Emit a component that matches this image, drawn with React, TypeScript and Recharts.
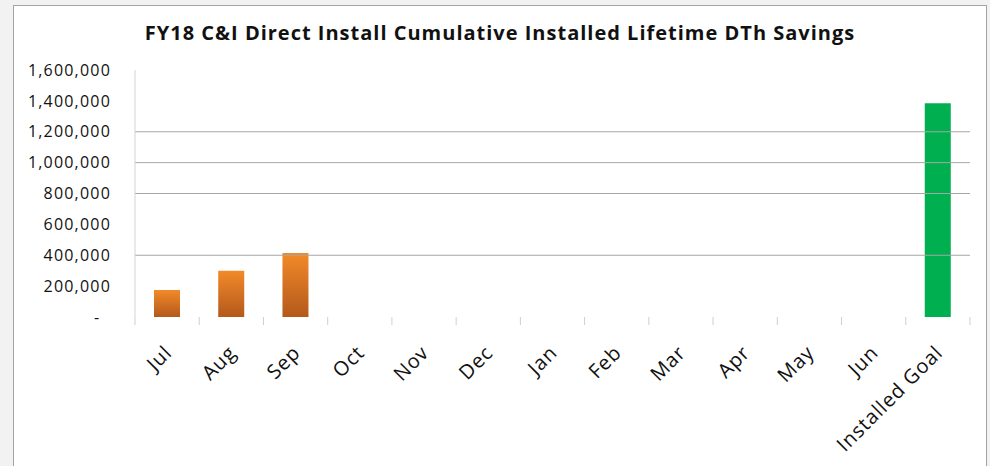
import React from "react";
import { BarChart, Bar, XAxis, YAxis, Cell, ReferenceLine } from "recharts";

const categories = ["Jul", "Aug", "Sep", "Oct", "Nov", "Dec", "Jan", "Feb", "Mar", "Apr", "May", "Jun", "Installed Goal"];
const savings = [175000, 300000, 415000, null, null, null, null, null, null, null, null, null, 1385000];
const yTicks = [0, 200000, 400000, 600000, 800000, 1000000, 1200000, 1400000, 1600000];
const gridValues = [400000, 800000, 1000000, 1200000];
const title = "FY18 C&I Direct Install Cumulative Installed Lifetime DTh Savings";

const data = categories.map((name, i) => ({ name, value: savings[i] }));

const fmtY = (v: number) => (v === 0 ? "-\u00a0\u00a0" : v.toLocaleString("en-US"));

const XTick = (props: any) => {
  const { x, y, payload, index } = props;
  const half = payload?.offset ?? 835 / 13 / 2;
  const last = index === categories.length - 1;
  return (
    <g>
      <line x1={x - half} y1={y} x2={x - half} y2={y + 8} stroke="#cfcfcf" />
      {last && <line x1={x + half} y1={y} x2={x + half} y2={y + 8} stroke="#cfcfcf" />}
      <text
        x={x + 6}
        y={y + 37}
        textAnchor="end"
        transform={`rotate(-45, ${x + 6}, ${y + 37})`}
        fontFamily="Open Sans"
        fontSize={20}
        letterSpacing={0.9}
        fill="#111"
      >
        {payload.value}
      </text>
    </g>
  );
};

export default function App() {
  return (
    <div style={{ position: "absolute", left: 0, top: 0, width: 990, height: 466, background: "#f2f2f2", overflow: "hidden" }}>
      <div style={{ position: "absolute", left: 13, top: 5, width: 972, height: 480, background: "#fff", border: "1px solid #a3a3a3" }} />
      <div
        style={{
          position: "absolute",
          left: 0,
          top: 19,
          width: 1000,
          textAlign: "center",
          fontFamily: "Open Sans",
          fontWeight: 700,
          fontSize: 20,
          color: "#111",
          letterSpacing: 1,
        }}
      >
        {title}
      </div>
      <div style={{ position: "absolute", left: 0, top: 0 }}>
        <BarChart width={990} height={466} data={data} margin={{ top: 70, right: 20, left: 0, bottom: 0 }}>
          <defs>
            <linearGradient id="orangeGrad" x1="0" y1="0" x2="0" y2="1">
              <stop offset="0%" stopColor="#f28a29" />
              <stop offset="100%" stopColor="#b4591c" />
            </linearGradient>
          </defs>
          {gridValues.map((v) => (
            <ReferenceLine key={v} y={v} stroke="#a6a6a6" strokeWidth={1} />
          ))}
          <XAxis
            dataKey="name"
            height={149}
            interval={0}
            axisLine={false}
            tickLine={false}
            tickSize={0}
            tickMargin={0}
            tick={<XTick />}
          />
          <YAxis
            width={135}
            domain={[0, 1600000]}
            ticks={yTicks}
            tickFormatter={fmtY}
            axisLine={{ stroke: "#d4d4d4" }}
            tickLine={false}
            tickSize={22}
            tick={{ fontFamily: "Open Sans", fontSize: 16, letterSpacing: 1.2, fill: "#111" }}
          />
          <Bar dataKey="value" barSize={26} isAnimationActive={false}>
            {data.map((d, i) => (
              <Cell key={d.name} fill={i === categories.length - 1 ? "#00b050" : "url(#orangeGrad)"} />
            ))}
          </Bar>
        </BarChart>
      </div>
    </div>
  );
}
